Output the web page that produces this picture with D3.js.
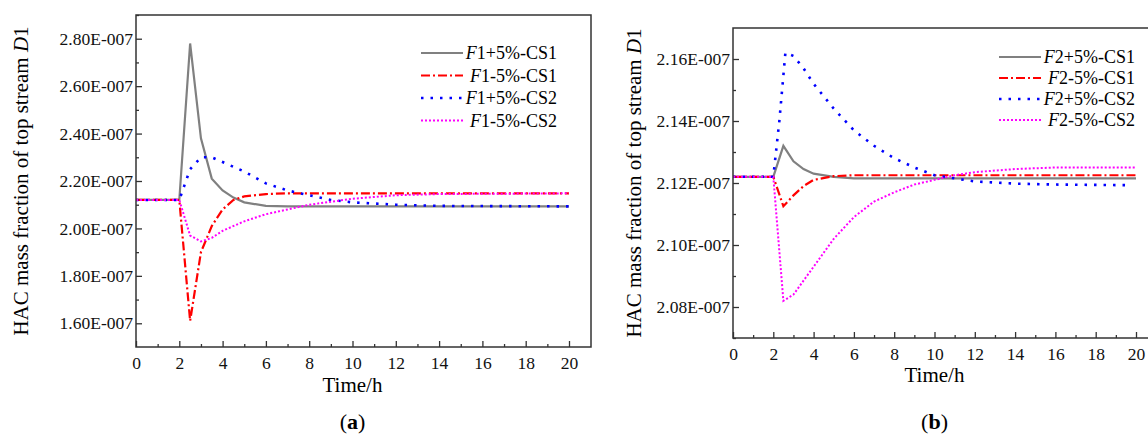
<!DOCTYPE html>
<html><head><meta charset="utf-8">
<script src="https://cdn.jsdelivr.net/npm/d3@7"></script>
<style>body{margin:0;background:#fff}text{font-family:"Liberation Serif","Times New Roman",serif}</style>
</head><body><svg id="c" width="1148" height="435"></svg>
<script>
// chart (a)
var timeA1 = [0, 2, 2.5, 3, 3.5, 4, 4.5, 5, 6, 7, 20];
var f1PlusCS1 = [2.12, 2.12, 2.78, 2.38, 2.21, 2.16, 2.13, 2.11, 2.095, 2.093, 2.093];
var timeA2 = [0, 2, 2.5, 3, 3.5, 4, 4.5, 5, 6, 7, 20];
var f1MinusCS1 = [2.12, 2.12, 1.61, 1.90, 2.01, 2.08, 2.12, 2.135, 2.145, 2.148, 2.148];
var timeA3 = [0, 2, 2.5, 3, 3.5, 4, 5, 6, 7, 8, 9, 10, 12, 14, 20];
var f1PlusCS2 = [2.12, 2.12, 2.25, 2.30, 2.30, 2.28, 2.24, 2.19, 2.16, 2.14, 2.12, 2.11, 2.10, 2.095, 2.093];
var timeA4 = [0, 2, 2.5, 3, 3.5, 4, 5, 6, 7, 8, 10, 12, 14, 20];
var f1MinusCS2 = [2.12, 2.12, 1.97, 1.945, 1.96, 1.99, 2.03, 2.06, 2.08, 2.10, 2.125, 2.14, 2.145, 2.148];
// chart (b)
var timeB1 = [0, 2, 2.5, 3, 3.5, 4, 5, 6, 20];
var f2PlusCS1 = [2.122, 2.122, 2.132, 2.127, 2.1245, 2.123, 2.122, 2.1215, 2.1215];
var timeB2 = [0, 2, 2.5, 3, 3.5, 4, 5, 6, 20];
var f2MinusCS1 = [2.122, 2.122, 2.1125, 2.116, 2.119, 2.121, 2.1222, 2.1225, 2.1225];
var timeB3 = [0, 2, 2.3, 2.6, 3, 3.5, 4, 5, 6, 7, 8, 9, 10, 12, 14, 16, 19.5];
var f2PlusCS2 = [2.122, 2.122, 2.14, 2.162, 2.161, 2.157, 2.152, 2.144, 2.137, 2.132, 2.128, 2.125, 2.1225, 2.1205, 2.1198, 2.1195, 2.1193];
var timeB4 = [0, 2, 2.5, 3, 4, 5, 6, 7, 8, 9, 10, 11, 12, 14, 16, 20];
var f2MinusCS2 = [2.122, 2.122, 2.082, 2.084, 2.093, 2.102, 2.109, 2.114, 2.117, 2.1195, 2.121, 2.1225, 2.1235, 2.1245, 2.125, 2.125];

var xTicks = d3.range(0, 21, 2);
var yTicksA = [1.6, 1.8, 2.0, 2.2, 2.4, 2.6, 2.8];
var yTicksB = [2.08, 2.10, 2.12, 2.14, 2.16];
var namesA = ["1+5%-CS1", "1-5%-CS1", "1+5%-CS2", "1-5%-CS2"];
var namesB = ["2+5%-CS1", "2-5%-CS1", "2+5%-CS2", "2-5%-CS2"];

var styles = [
  {color: "#808080", dash: null, w: 2.2},
  {color: "#ff0000", dash: "9,3,2,3", w: 2.2},
  {color: "#0000ff", dash: "2.5,7", w: 2.6},
  {color: "#ff00ff", dash: "2,2", w: 2}
];

var svg = d3.select("#c");

function drawChart(o) {
  var x = d3.scaleLinear().domain([0, o.xMax]).range([o.left, o.right]);
  var y = d3.scaleLinear().domain(o.yDom).range([o.bottom, o.top]);
  var g = svg.append("g");
  var x20 = x(20);

  o.series.forEach(function(s, i) {
    var pts = s[0].map(function(t, j) { return [t, s[1][j]]; });
    g.append("path").datum(pts)
      .attr("fill", "none").attr("stroke", styles[i].color)
      .attr("stroke-width", styles[i].w)
      .attr("stroke-dasharray", styles[i].dash)
      .attr("d", d3.line().x(function(d) { return x(d[0]); }).y(function(d) { return y(d[1]); }));
  });

  g.append("g").attr("transform", "translate(0," + o.bottom + ")")
    .call(d3.axisBottom(x).tickValues(xTicks).tickSize(-6).tickPadding(10).tickFormat(d3.format("d")));
  g.append("g").attr("transform", "translate(0," + o.bottom + ")")
    .call(d3.axisBottom(x).tickValues(d3.range(1, 20, 2)).tickSize(-3).tickFormat(""));
  g.append("g").attr("transform", "translate(" + o.left + ",0)")
    .call(d3.axisLeft(y).tickValues(o.yTicks).tickSize(-6).tickPadding(3)
      .tickFormat(function(d) { return d.toFixed(2) + "E-007"; }));
  var step = o.yTicks[1] - o.yTicks[0];
  g.append("g").attr("transform", "translate(" + o.left + ",0)")
    .call(d3.axisLeft(y).tickValues(d3.range(o.yTicks[0] - step / 2, o.yDom[1], step).filter(function(v){return v > o.yDom[0];})).tickSize(-3).tickFormat(""));
  g.selectAll(".domain").remove();
  g.selectAll(".tick line").attr("stroke", "#333").attr("stroke-width", 1.3);
  g.selectAll(".tick text").attr("font-size", 17.5).attr("fill", "#111").attr("font-family", "Liberation Serif");

  g.append("rect").attr("x", o.left).attr("y", o.top)
    .attr("width", o.frameRight - o.left).attr("height", o.bottom - o.top)
    .attr("fill", "none").attr("stroke", "#333").attr("stroke-width", 1.5);

  g.append("text").attr("x", (o.left + x20) / 2).attr("y", o.bottom + o.tdy)
    .attr("text-anchor", "middle").attr("font-size", 21).text("Time/h");
  var yt = g.append("text").attr("transform", "translate(" + o.yLabX + "," + ((o.top + o.bottom) / 2) + ") rotate(-90)")
    .attr("text-anchor", "middle").attr("font-size", 21);
  yt.append("tspan").text("HAC mass fraction of top stream ");
  yt.append("tspan").attr("font-style", "italic").text("D");
  yt.append("tspan").text("1");

  o.names.forEach(function(n, i) {
    var ly = o.legY + i * o.legStep;
    g.append("line").attr("x1", o.legX).attr("x2", o.legX + 42).attr("y1", ly).attr("y2", ly)
      .attr("stroke", styles[i].color).attr("stroke-width", styles[i].w)
      .attr("stroke-dasharray", styles[i].dash);
    var t = g.append("text").attr("x", o.legX + 136).attr("y", ly + 6)
      .attr("text-anchor", "end").attr("font-size", 18);
    t.append("tspan").attr("font-style", "italic").text("F");
    t.append("tspan").text(n);
  });

  var lab = g.append("text").attr("x", (o.left + x20) / 2).attr("y", 429)
    .attr("text-anchor", "middle").attr("font-size", 22);
  lab.append("tspan").text("(");
  lab.append("tspan").attr("font-weight", "bold").text(o.tag);
  lab.append("tspan").text(")");
}

drawChart({
  left: 136, right: 569, xMax: 20, frameRight: 591, top: 15, bottom: 347,
  yDom: [1.5, 2.9], yTicks: yTicksA, yLabX: 28, tdy: 45,
  series: [[timeA1, f1PlusCS1], [timeA2, f1MinusCS1], [timeA3, f1PlusCS2], [timeA4, f1MinusCS2]],
  names: namesA, legX: 421, legY: 53, legStep: 22.5, tag: "a"
});
drawChart({
  left: 733, right: 1136, xMax: 20, frameRight: 1160, top: 28, bottom: 338,
  yDom: [2.07, 2.17], yTicks: yTicksB, yLabX: 641, tdy: 44,
  series: [[timeB1, f2PlusCS1], [timeB2, f2MinusCS1], [timeB3, f2PlusCS2], [timeB4, f2MinusCS2]],
  names: namesB, legX: 999, legY: 57, legStep: 21, tag: "b"
});
</script></body></html>
